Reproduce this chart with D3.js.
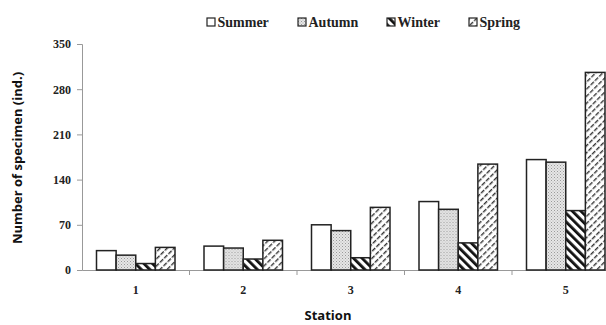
<!DOCTYPE html>
<html>
<head>
<meta charset="utf-8">
<script src="https://cdn.jsdelivr.net/npm/d3@7"></script>
<style>
  body { margin: 0; background: #fff; }
  svg { display: block; }
  .tick text { font-family: "Liberation Serif", serif; font-weight: bold; font-size: 12px; fill: #222; }
  .title { font-family: "Open Sans", sans-serif; font-weight: bold; font-size: 13px; fill: #111; }
  .legend text { font-family: "Liberation Serif", serif; font-weight: bold; font-size: 14px; fill: #222; }
</style>
</head>
<body>
<script>
var stations = ["1", "2", "3", "4", "5"];
var seasons = ["Summer", "Autumn", "Winter", "Spring"];
var summer = [30, 37, 70, 106, 171];
var autumn = [23, 34, 61, 94, 167];
var winter = [10, 17, 19, 42, 92];
var spring = [35, 46, 97, 164, 306];
var yTicks = [0, 70, 140, 210, 280, 350];

var series = [summer, autumn, winter, spring];
var fills = ["#fff", "url(#pAutumn)", "url(#pWinter)", "url(#pSpring)"];

var width = 606, height = 325;
var svg = d3.select("body").append("svg")
    .attr("width", width)
    .attr("height", height);

var defs = svg.append("defs");

// autumn: fine grey stipple
var pa = defs.append("pattern").attr("id", "pAutumn")
    .attr("patternUnits", "userSpaceOnUse").attr("width", 3).attr("height", 3);
pa.append("rect").attr("width", 3).attr("height", 3).attr("fill", "#e6e6e6");
pa.append("rect").attr("x", 0).attr("y", 0).attr("width", 1).attr("height", 1).attr("fill", "#9a9a9a");
pa.append("rect").attr("x", 1.5).attr("y", 1.5).attr("width", 1).attr("height", 1).attr("fill", "#b0b0b0");

// winter: heavy back-slash stripes
var pw = defs.append("pattern").attr("id", "pWinter")
    .attr("patternUnits", "userSpaceOnUse").attr("width", 6).attr("height", 6)
    .attr("patternTransform", "rotate(-45)");
pw.append("rect").attr("width", 6).attr("height", 6).attr("fill", "#fff");
pw.append("rect").attr("x", 0).attr("y", 0).attr("width", 2.8).attr("height", 6).attr("fill", "#111");

// spring: broken forward-slash hatch
var ps = defs.append("pattern").attr("id", "pSpring")
    .attr("patternUnits", "userSpaceOnUse").attr("width", 5).attr("height", 6)
    .attr("patternTransform", "rotate(45)");
ps.append("rect").attr("width", 5).attr("height", 6).attr("fill", "#fff");
ps.append("rect").attr("x", 0).attr("y", 0).attr("width", 1.4).attr("height", 4.5).attr("fill", "#333");

var x0 = d3.scaleBand().domain(stations).range([82, 619.5]).paddingInner(0).paddingOuter(0);
var x1 = d3.scaleBand().domain(seasons).range([14.5, x0.bandwidth() - 14.5]);
var y = d3.scaleLinear().domain([0, 350]).range([270, 44]);

// y axis
var yAxis = svg.append("g")
    .attr("transform", "translate(82,0)")
    .call(d3.axisLeft(y).tickValues(yTicks).tickSize(5).tickPadding(6));
yAxis.select(".domain").attr("stroke", "#999");
yAxis.selectAll(".tick line").attr("stroke", "#999");

// x axis
var xAxis = svg.append("g")
    .attr("transform", "translate(0,270)")
    .call(d3.axisBottom(x0).tickSize(0).tickPadding(15));
xAxis.select(".domain").attr("stroke", "#999");
xAxis.selectAll(".sep")
    .data(stations.slice(1))
    .enter().append("line")
    .attr("class", "sep")
    .attr("x1", function (d) { return x0(d); })
    .attr("x2", function (d) { return x0(d); })
    .attr("y1", 0).attr("y2", 5)
    .attr("stroke", "#999");

// bars
var groups = svg.selectAll("g.station")
    .data(stations)
    .enter().append("g")
    .attr("class", "station")
    .attr("transform", function (d) { return "translate(" + x0(d) + ",0)"; });

groups.selectAll("rect")
    .data(function (d, i) {
        return seasons.map(function (s, j) { return { season: s, value: series[j][i], k: j }; });
    })
    .enter().append("rect")
    .attr("x", function (d) { return x1(d.season); })
    .attr("y", function (d) { return y(d.value); })
    .attr("width", x1.bandwidth())
    .attr("height", function (d) { return y(0) - y(d.value); })
    .attr("fill", function (d) { return fills[d.k]; })
    .attr("stroke", "#222")
    .attr("stroke-width", 1.5);

// titles
svg.append("text")
    .attr("class", "title")
    .attr("transform", "translate(22,158) rotate(-90)")
    .attr("text-anchor", "middle")
    .text("Number of specimen (ind.)");

svg.append("text")
    .attr("class", "title")
    .attr("x", 328).attr("y", 320)
    .attr("text-anchor", "middle")
    .text("Station");

// legend
var legendX = [207, 298, 387, 469];
var legend = svg.append("g").attr("class", "legend");
var li = legend.selectAll("g")
    .data(seasons)
    .enter().append("g")
    .attr("transform", function (d, i) { return "translate(" + legendX[i] + ",18)"; });
li.append("rect")
    .attr("width", 8).attr("height", 8)
    .attr("fill", function (d, i) { return fills[i]; })
    .attr("stroke", "#222").attr("stroke-width", 1.2);
li.append("text")
    .attr("x", 10.5).attr("y", 9)
    .text(function (d) { return d; });
</script>
</body>
</html>
